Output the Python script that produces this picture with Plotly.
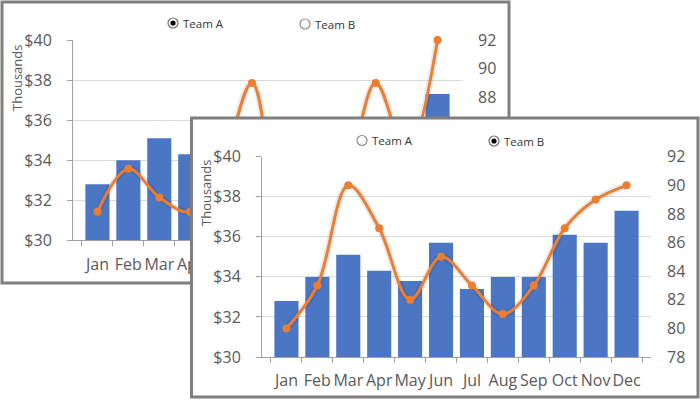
import plotly.graph_objects as go

# data (sales in thousands, team scores)
months = ["Jan", "Feb", "Mar", "Apr", "May", "Jun",
          "Jul", "Aug", "Sep", "Oct", "Nov", "Dec"]
sales_k = [32.8, 34.0, 35.1, 34.3, 33.8, 35.7, 33.4, 34.0, 34.0, 36.1, 35.7, 37.3]
team_a = [80, 83, 81, 80, 83, 89, 81, 82, 83, 89, 84, 92]
team_b = [80, 83, 90, 87, 82, 85, 83, 81, 83, 87, 89, 90]

W, H = 700, 400
BLUE = "#4A76C4"
ORANGE = "#ED7D31"
TEXT = "#595959"
GRID = "#D9D9D9"
AXIS = "#A0A0A0"
BORDER = "#7F7F7F"
FONT = "Open Sans"


def px(x):
    return x / W


def py(y):
    return 1 - y / H


fig = go.Figure()


def add_panel(xa, ya, ya2, scores):
    # bars on the left ($) axis, smoothed score line on the right axis
    fig.add_trace(go.Bar(
        x=months, y=sales_k, xaxis=xa, yaxis=ya,
        marker=dict(color=BLUE, line=dict(width=0)),
        showlegend=False, hoverinfo="x+y",
    ))
    # soft shadow under the line, like the Excel effect
    fig.add_trace(go.Scatter(
        x=months, y=scores, xaxis=xa, yaxis=ya2,
        mode="lines", line=dict(color="rgba(0,0,0,0.08)", width=7, shape="spline", smoothing=1),
        showlegend=False, hoverinfo="skip", cliponaxis=False,
    ))
    fig.add_trace(go.Scatter(
        x=months, y=scores, xaxis=xa, yaxis=ya2,
        mode="lines+markers",
        line=dict(color=ORANGE, width=3, shape="spline", smoothing=1),
        marker=dict(color=ORANGE, size=8),
        showlegend=False, cliponaxis=False,
    ))


# back panel (Team A) -> x / y / y2
add_panel("x", "y", "y2", team_a)

# an empty subplot used as the white card of the front panel; plotly gives
# overlapping subplots their own background, which hides the panel behind
fig.add_trace(go.Scatter(x=[None], y=[None], xaxis="x2", yaxis="y3",
                         showlegend=False, hoverinfo="skip"))

# front panel (Team B) -> x3 / y4 / y5
add_panel("x3", "y4", "y5", team_b)


def x_axis(domain, anchor, shown=None):
    ax = dict(
        domain=domain, anchor=anchor, type="category", automargin=False,
        tickson="boundaries", ticks="outside", ticklen=5, tickcolor=AXIS,
        showline=True, linecolor=AXIS, linewidth=1, showgrid=False,
        tickangle=0, tickfont=dict(family=FONT, size=16, color=TEXT),
        ticklabelstandoff=9, fixedrange=True,
    )
    if shown is not None:
        ax["tickvals"] = shown
    return ax


def left_axis(domain, anchor):
    return dict(
        domain=domain, anchor=anchor, range=[30, 40], dtick=2, tickprefix="$",
        automargin=False,
        showgrid=True, gridcolor=GRID, gridwidth=1, zeroline=False,
        showline=True, linecolor=AXIS, linewidth=1,
        ticks="outside", ticklen=5, tickcolor=AXIS,
        tickfont=dict(family=FONT, size=16, color=TEXT),
        ticklabelstandoff=12, fixedrange=True,
    )


def right_axis(overlay, anchor):
    return dict(
        overlaying=overlay, anchor=anchor, side="right", automargin=False,
        range=[78, 92], dtick=2, showgrid=False, zeroline=False,
        showline=False, ticks="",
        tickfont=dict(family=FONT, size=16, color=TEXT),
        ticklabelstandoff=15, fixedrange=True,
    )


back_x = [px(73), px(462)]
back_y = [py(240.3), py(40)]
front_x = [px(262), px(651)]
front_y = [py(357), py(156.7)]

fig.update_layout(
    template="none",
    # only the back months that peek out from behind the front card get labels
    xaxis=x_axis(back_x, "y", shown=months[:4]),
    yaxis=left_axis(back_y, "x"),
    yaxis2=right_axis("y", "x"),
    xaxis2=dict(domain=[px(190), 1], anchor="y3", visible=False,
                automargin=False, fixedrange=True),
    yaxis3=dict(domain=[0, py(117)], anchor="x2", visible=False,
                automargin=False, fixedrange=True),
    xaxis3=x_axis(front_x, "y4"),
    yaxis4=left_axis(front_y, "x3"),
    yaxis5=right_axis("y4", "x3"),
    bargap=0.22,
    width=W, height=H,
    margin=dict(l=0, r=0, t=0, b=0, autoexpand=False),
    paper_bgcolor="white",
    plot_bgcolor="white",
    font=dict(family=FONT, color=TEXT),
)

shapes = []
annotations = []

# card borders: back one below the plots so the front card hides it
shapes.append(dict(type="rect", xref="paper", yref="paper", layer="below",
                   x0=px(2), x1=px(509), y0=py(283), y1=py(2),
                   line=dict(color=BORDER, width=3), fillcolor="rgba(0,0,0,0)"))
shapes.append(dict(type="rect", xref="paper", yref="paper", layer="above",
                   x0=px(191.5), x1=px(698), y0=py(397), y1=py(118),
                   line=dict(color=BORDER, width=3), fillcolor="rgba(0,0,0,0)"))


def radio(cx, cy, label, selected):
    r = 5
    shapes.append(dict(type="circle", xref="paper", yref="paper", layer="above",
                       x0=px(cx - r), x1=px(cx + r), y0=py(cy + r), y1=py(cy - r),
                       line=dict(color="#6E6E6E" if selected else "#8C8C8C", width=1.2),
                       fillcolor="white"))
    if selected:
        d = 2.6
        shapes.append(dict(type="circle", xref="paper", yref="paper", layer="above",
                           x0=px(cx - d), x1=px(cx + d), y0=py(cy + d), y1=py(cy - d),
                           line=dict(color="black", width=0), fillcolor="black"))
    annotations.append(dict(xref="paper", yref="paper", x=px(cx + 8), y=py(cy),
                            xanchor="left", yanchor="middle", showarrow=False,
                            text=label, font=dict(family=FONT, size=11.5, color="#333333")))


radio(173, 23, "Team A", True)
radio(305, 24, "Team B", False)
radio(362, 140.5, "Team A", False)
radio(494, 141, "Team B", True)

# Excel's display-unit label
for x, y in [(17, 78), (206, 193)]:
    annotations.append(dict(xref="paper", yref="paper", x=px(x), y=py(y),
                            xanchor="center", yanchor="middle", showarrow=False,
                            text="Thousands", textangle=-90,
                            font=dict(family=FONT, size=13, color=TEXT)))

fig.update_layout(shapes=shapes, annotations=annotations)

# drop the browser's default body margin so the 700x400 figure fills the window
fig.write_html("out.html", config={"displayModeBar": False},
               post_script="document.body.style.margin = '0';")
